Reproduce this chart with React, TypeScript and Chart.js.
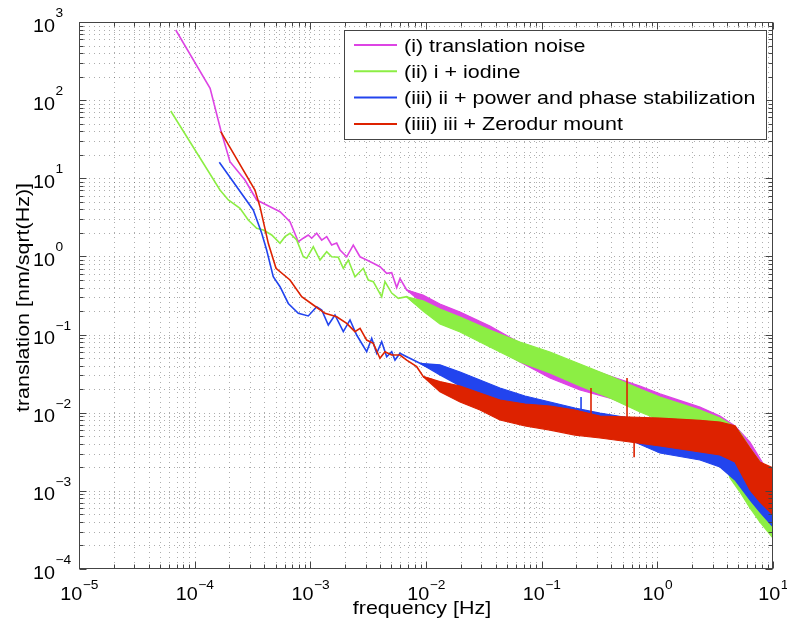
import React, { useEffect, useRef } from 'react';
import { Chart, registerables } from 'chart.js';

Chart.register(...registerables);

// ---------- axis ranges ----------
const X_MIN = 1e-5;
const X_MAX = 10;
const Y_MIN = 1e-4;
const Y_MAX = 1e3;

// ---------- labels ----------
const seriesLabels = [
  '(i) translation noise',
  '(ii) i + iodine',
  '(iii) ii + power and phase stabilization',
  '(iiii) iii + Zerodur mount',
];
const seriesColors = ['#dd44e4', '#8cee44', '#2244ee', '#dd2200'];
const xTitle = 'frequency [Hz]';
const yTitle = 'translation [nm/sqrt(Hz)]';
const xTickExponents = [-5, -4, -3, -2, -1, 0, 1];
const yTickExponents = [-4, -3, -2, -1, 0, 1, 2, 3];

// ---------- (i) translation noise ----------
const iTraceFreq = [6.86e-5, 1.36e-4, 1.68e-4, 2.02e-4, 2.72e-4, 3.44e-4, 4.19e-4, 5.47e-4, 6.67e-4, 7.87e-4, 8.69e-4, 9.6e-4, 1.027e-3, 1.135e-3, 1.254e-3, 1.385e-3, 1.529e-3, 1.69e-3, 1.805e-3, 2.063e-3, 2.351e-3, 2.687e-3, 3.071e-3, 3.502e-3, 4.0e-3, 4.573e-3, 5.05e-3, 5.58e-3, 5.96e-3, 6.81e-3, 8.3e-3, 9.42e-3];
const iTraceVal = [790, 142, 41.5, 16.3, 9.5, 5.27, 4.55, 3.73, 2.78, 1.54, 1.71, 1.88, 1.71, 1.98, 1.62, 1.79, 1.4, 1.48, 1.21, 0.99, 1.4, 0.99, 0.9, 0.816, 0.739, 0.608, 0.62, 0.4, 0.52, 0.372, 0.33, 0.28];
const iBandFreq = [6.81e-3, 9.42e-3, 1.32e-2, 1.97e-2, 3.57e-2, 6.5e-2, 0.118, 0.2145, 0.39, 0.708, 1.054, 2.337, 3.48, 4.69, 6.32, 10];
const iBandHigh = [0.372, 0.32, 0.246, 0.194, 0.129, 0.078, 0.057, 0.04, 0.0295, 0.022, 0.0174, 0.0118, 0.00907, 0.00676, 0.00422, 0.00138];
const iBandLow = [0.372, 0.25, 0.163, 0.121, 0.0757, 0.0446, 0.0278, 0.0195, 0.0154, 0.0108, 0.00855, 0.006, 0.00475, 0.00333, 0.000764, 0.000316];

// ---------- (ii) i + iodine ----------
const iiTraceFreq = [6.21e-5, 1.655e-4, 1.955e-4, 2.466e-4, 2.907e-4, 3.437e-4, 3.92e-4, 4.634e-4, 5.466e-4, 6.04e-4, 6.67e-4, 7.62e-4, 8.69e-4, 9.3e-4, 1.061e-3, 1.212e-3, 1.385e-3, 1.529e-3, 1.745e-3, 1.928e-3, 2.129e-3, 2.432e-3, 2.87e-3, 3.17e-3, 3.502e-3, 4.139e-3, 4.42e-3, 5.052e-3, 5.762e-3, 6.81e-3, 8.0e-3, 9.42e-3];
const iiTraceVal = [72.6, 7.08, 5.27, 4.13, 2.92, 2.29, 2.18, 1.88, 1.47, 1.79, 1.98, 1.62, 0.992, 0.946, 1.33, 0.9, 1.15, 0.99, 0.974, 0.705, 0.9, 0.55, 0.705, 0.499, 0.475, 0.305, 0.475, 0.34, 0.291, 0.305, 0.25, 0.24];
const iiBandFreq = [6.81e-3, 9.42e-3, 1.32e-2, 1.97e-2, 3.57e-2, 6.5e-2, 0.118, 0.2145, 0.39, 0.708, 1.054, 2.337, 3.48, 4.25, 5.18, 6.32, 7.72, 10];
const iiBandHigh = [0.305, 0.27, 0.212, 0.168, 0.114, 0.0803, 0.0598, 0.042, 0.0295, 0.0201, 0.0159, 0.0108, 0.00855, 0.00717, 0.00566, 0.00353, 0.00234, 0.00109];
const iiBandLow = [0.305, 0.2, 0.137, 0.108, 0.0693, 0.0446, 0.0322, 0.022, 0.0154, 0.0102, 0.00806, 0.00566, 0.00386, 0.00146, 0.000966, 0.000603, 0.000399, 0.000249];

// ---------- (iii) ii + power and phase stabilization ----------
const iiiTraceFreq = [1.633e-4, 3.21e-4, 3.8e-4, 4.19e-4, 4.78e-4, 5.47e-4, 6.45e-4, 7.87e-4, 9.6e-4, 1.135e-3, 1.254e-3, 1.43e-3, 1.633e-3, 1.928e-3, 2.203e-3, 2.516e-3, 3.071e-3, 3.393e-3, 3.747e-3, 4.139e-3, 4.573e-3, 5.052e-3, 5.394e-3, 5.96e-3, 6.81e-3, 8.87e-3, 1.014e-2, 1.156e-2, 1.32e-2];
const iiiTraceVal = [16.0, 3.93, 1.98, 1.21, 0.55, 0.41, 0.25, 0.187, 0.173, 0.227, 0.206, 0.1325, 0.178, 0.109, 0.154, 0.0987, 0.0603, 0.0896, 0.0576, 0.0811, 0.0521, 0.0603, 0.0472, 0.0576, 0.0521, 0.0429, 0.0388, 0.0408, 0.0352];
const iiiBandFreq = [8.87e-3, 1.32e-2, 1.97e-2, 2.93e-2, 4.36e-2, 7.18e-2, 0.118, 0.194, 0.319, 0.58, 1.054, 2.337, 3.48, 4.69, 6.32, 7.72, 10];
const iiiBandHigh = [0.0429, 0.041, 0.0332, 0.0262, 0.0207, 0.01636, 0.0137, 0.01148, 0.0099, 0.00855, 0.0076, 0.00696, 0.00637, 0.00566, 0.00333, 0.00214, 0.001025];
const iiiBandLow = [0.0429, 0.0305, 0.022, 0.01735, 0.0137, 0.01083, 0.00855, 0.00696, 0.00566, 0.00447, 0.00305, 0.00248, 0.00202, 0.00138, 0.000764, 0.000536, 0.000345];
const iiiSpikeFreq = [0.219];
const iiiSpikeBase = [0.011];
const iiiSpikeTip = [0.0159];

// ---------- (iiii) iii + Zerodur mount ----------
const iiiiTraceFreq = [1.68e-4, 3.32e-4, 3.67e-4, 4.33e-4, 5.05e-4, 6.67e-4, 8.42e-4, 1.061e-3, 1.339e-3, 1.69e-3, 2.063e-3, 2.43e-3, 2.69e-3, 3.07e-3, 3.5e-3, 4.0e-3, 4.42e-3, 5.05e-3, 5.96e-3, 6.81e-3, 8.31e-3, 9.48e-3, 1.156e-2, 1.32e-2];
const iiiiTraceVal = [39.5, 7.08, 4.33, 1.47, 0.705, 0.5, 0.305, 0.239, 0.187, 0.169, 0.139, 0.109, 0.12, 0.085, 0.0773, 0.0497, 0.0603, 0.0547, 0.0547, 0.0472, 0.0388, 0.0289, 0.0262, 0.0215];
const iiiiBandFreq = [9.48e-3, 1.32e-2, 1.97e-2, 2.93e-2, 4.36e-2, 7.18e-2, 0.118, 0.194, 0.319, 0.58, 1.054, 2.337, 3.48, 4.69, 6.32, 7.72, 10];
const iiiiBandHigh = [0.0289, 0.025, 0.022, 0.01787, 0.01454, 0.01292, 0.01218, 0.01083, 0.00907, 0.00881, 0.00855, 0.008, 0.0076, 0.0068, 0.00353, 0.00234, 0.00196];
const iiiiBandLow = [0.0289, 0.0185, 0.0137, 0.01083, 0.00806, 0.00676, 0.006, 0.00518, 0.00475, 0.00422, 0.00375, 0.00314, 0.00288, 0.00234, 0.001025, 0.00072, 0.000491];
const iiiiSpikeFreq = [0.267, 0.547, 0.63];
const iiiiSpikeBase = [0.008, 0.008, 0.0045];
const iiiiSpikeTip = [0.0207, 0.0278, 0.0027];

// ---------- styling ----------
const FONT = "'Liberation Sans', Arial, Helvetica, sans-serif";
const SX = 1.13;
const GRID_COLOR = 'rgba(60,60,60,0.42)';
const FRAME_COLOR = '#444';

const zip = (xs: number[], ys: number[]) => xs.map((x, i) => ({ x, y: ys[i] }));

type Series = {
  traceF: number[]; traceV: number[];
  bandF: number[]; bandH: number[]; bandL: number[];
  spikeF?: number[]; spikeB?: number[]; spikeT?: number[];
};

const series: Series[] = [
  { traceF: iTraceFreq, traceV: iTraceVal, bandF: iBandFreq, bandH: iBandHigh, bandL: iBandLow },
  { traceF: iiTraceFreq, traceV: iiTraceVal, bandF: iiBandFreq, bandH: iiBandHigh, bandL: iiBandLow },
  { traceF: iiiTraceFreq, traceV: iiiTraceVal, bandF: iiiBandFreq, bandH: iiiBandHigh, bandL: iiiBandLow, spikeF: iiiSpikeFreq, spikeB: iiiSpikeBase, spikeT: iiiSpikeTip },
  { traceF: iiiiTraceFreq, traceV: iiiiTraceVal, bandF: iiiiBandFreq, bandH: iiiiBandHigh, bandL: iiiiBandLow, spikeF: iiiiSpikeFreq, spikeB: iiiiSpikeBase, spikeT: iiiiSpikeTip },
];

function buildDatasets() {
  const ds: any[] = [];
  series.forEach((s, k) => {
    const color = seriesColors[k];
    const order = 10 - k; // later series drawn on top
    ds.push({
      label: seriesLabels[k], data: zip(s.traceF, s.traceV), borderColor: color,
      borderWidth: 1.6, pointRadius: 0, fill: false, order, tension: 0,
    });
    ds.push({
      label: '', data: zip(s.bandF, s.bandH), borderColor: color, backgroundColor: color,
      borderWidth: 1.2, pointRadius: 0, fill: '+1', order, tension: 0,
    });
    ds.push({
      label: '', data: zip(s.bandF, s.bandL), borderColor: color,
      borderWidth: 1.2, pointRadius: 0, fill: false, order, tension: 0,
    });
    if (s.spikeF) {
      s.spikeF.forEach((f, j) => {
        ds.push({
          label: '', data: [{ x: f, y: s.spikeB![j] }, { x: f, y: s.spikeT![j] }],
          borderColor: color, borderWidth: 1.6, pointRadius: 0, fill: false, order, tension: 0,
        });
      });
    }
  });
  return ds;
}

function logSteps(min: number, max: number) {
  const out: { v: number; major: boolean }[] = [];
  const e0 = Math.floor(Math.log10(min));
  const e1 = Math.ceil(Math.log10(max));
  for (let e = e0; e <= e1; e++) {
    for (let m = 1; m <= 9; m++) {
      const v = Number((m * Math.pow(10, e)).toPrecision(6));
      if (v >= min * 0.9999 && v <= max * 1.0001) out.push({ v, major: m === 1 });
    }
  }
  return out;
}

function drawText(ctx: CanvasRenderingContext2D, text: string, x: number, y: number, size: number,
  align: CanvasTextAlign, sx = SX, rot = 0) {
  ctx.save();
  ctx.translate(x, y);
  if (rot) ctx.rotate(rot);
  ctx.scale(sx, 1);
  ctx.font = `${size}px ${FONT}`;
  ctx.textAlign = align;
  ctx.textBaseline = 'alphabetic';
  ctx.fillStyle = '#000';
  ctx.fillText(text, 0, 0);
  ctx.restore();
}

function textWidth(ctx: CanvasRenderingContext2D, text: string, size: number, sx = SX) {
  ctx.save();
  ctx.font = `${size}px ${FONT}`;
  const w = ctx.measureText(text).width * sx;
  ctx.restore();
  return w;
}

const expText = (e: number) => (e < 0 ? '\u2212' + Math.abs(e) : String(e));

const matlabAxes = {
  id: 'matlabAxes',
  beforeDatasetsDraw(chart: any) {
    const { ctx, chartArea: a } = chart;
    const xs = chart.scales.x;
    const ys = chart.scales.y;
    ctx.save();
    ctx.beginPath();
    ctx.rect(a.left, a.top, a.right - a.left, a.bottom - a.top);
    ctx.clip();
    ctx.strokeStyle = GRID_COLOR;
    ctx.lineWidth = 1;
    ctx.setLineDash([1, 4]);
    for (const t of logSteps(X_MIN, X_MAX)) {
      if (t.v <= X_MIN * 1.001 || t.v >= X_MAX * 0.999) continue;
      const px = Math.round(xs.getPixelForValue(t.v)) + 0.5;
      ctx.beginPath();
      ctx.moveTo(px, a.top);
      ctx.lineTo(px, a.bottom);
      ctx.stroke();
    }
    for (const t of logSteps(Y_MIN, Y_MAX)) {
      if (t.v <= Y_MIN * 1.001 || t.v >= Y_MAX * 0.999) continue;
      const py = Math.round(ys.getPixelForValue(t.v)) + 0.5;
      ctx.beginPath();
      ctx.moveTo(a.left, py);
      ctx.lineTo(a.right, py);
      ctx.stroke();
    }
    ctx.restore();
  },
  afterDraw(chart: any) {
    const { ctx, chartArea: a } = chart;
    const xs = chart.scales.x;
    const ys = chart.scales.y;
    ctx.save();
    // frame
    ctx.strokeStyle = FRAME_COLOR;
    ctx.lineWidth = 1;
    const L = Math.round(a.left) + 0.5, R = Math.round(a.right) - 0.5;
    const T = Math.round(a.top) + 0.5, B = Math.round(a.bottom) - 0.5;
    ctx.strokeRect(L, T, R - L, B - T);
    // ticks
    ctx.beginPath();
    for (const t of logSteps(X_MIN, X_MAX)) {
      const px = Math.round(xs.getPixelForValue(t.v)) + 0.5;
      const len = t.major ? 7 : 4;
      ctx.moveTo(px, B); ctx.lineTo(px, B - len);
      ctx.moveTo(px, T); ctx.lineTo(px, T + len);
    }
    for (const t of logSteps(Y_MIN, Y_MAX)) {
      const py = Math.round(ys.getPixelForValue(t.v)) + 0.5;
      const len = t.major ? 7 : 4;
      ctx.moveTo(L, py); ctx.lineTo(L + len, py);
      ctx.moveTo(R, py); ctx.lineTo(R - len, py);
    }
    ctx.stroke();

    // tick labels
    const baseSize = 18, expSize = 12.5, tsx = 1.1;
    for (const e of xTickExponents) {
      const px = xs.getPixelForValue(Math.pow(10, e));
      const wb = textWidth(ctx, '10', baseSize, tsx);
      const we = textWidth(ctx, expText(e), expSize, tsx);
      const start = px - (wb + we) / 2;
      drawText(ctx, '10', start, a.bottom + 30.5, baseSize, 'left', tsx);
      drawText(ctx, expText(e), start + wb + 0.5, a.bottom + 19.5, expSize, 'left', tsx);
    }
    for (const e of yTickExponents) {
      const py = ys.getPixelForValue(Math.pow(10, e));
      const xr = a.left - 24;
      drawText(ctx, '10', xr, py + 9.5, baseSize, 'right', tsx);
      drawText(ctx, expText(e), xr + 0.5, py - 5, expSize, 'left', tsx);
    }

    // axis titles
    drawText(ctx, xTitle, (a.left + a.right) / 2 - 4, a.bottom + 45, 19, 'center');
    drawText(ctx, yTitle, a.left - 50, (a.top + a.bottom) / 2 + 2, 19, 'center', SX, -Math.PI / 2);

    // legend (inside plot, top-right)
    const bx = a.left + 265, by = a.top + 8, bw = 422, bh = 109;
    ctx.fillStyle = '#fff';
    ctx.fillRect(bx, by, bw, bh);
    ctx.strokeStyle = FRAME_COLOR;
    ctx.lineWidth = 1;
    ctx.strokeRect(Math.round(bx) + 0.5, Math.round(by) + 0.5, bw, bh);
    const entries = chart.data.datasets.filter((d: any) => d.label);
    entries.forEach((d: any, i: number) => {
      const ly = by + 15 + i * 26.3;
      ctx.strokeStyle = d.borderColor;
      ctx.lineWidth = 2;
      ctx.beginPath();
      ctx.moveTo(bx + 10, ly);
      ctx.lineTo(bx + 53, ly);
      ctx.stroke();
      drawText(ctx, d.label, bx + 60, ly + 6.5, 19, 'left');
    });
    ctx.restore();
  },
};

export default function App() {
  const ref = useRef<HTMLCanvasElement | null>(null);
  useEffect(() => {
    if (!ref.current) return;
    const chart = new Chart(ref.current, {
      type: 'line',
      data: { datasets: buildDatasets() },
      options: {
        animation: false,
        responsive: false,
        devicePixelRatio: 1,
        layout: { padding: { left: 79, top: 22, right: 14, bottom: 55 } },
        scales: {
          x: { type: 'logarithmic', min: X_MIN, max: X_MAX, display: false },
          y: { type: 'logarithmic', min: Y_MIN, max: Y_MAX, display: false },
        },
        plugins: { legend: { display: false }, tooltip: { enabled: false } },
        elements: { point: { radius: 0 }, line: { tension: 0 } },
      } as any,
      plugins: [matlabAxes],
    });
    return () => chart.destroy();
  }, []);
  return (
    <div style={{ position: 'fixed', left: 0, top: 0, width: 787, height: 624, background: '#fff' }}>
      <canvas ref={ref} width={787} height={624} style={{ display: 'block', width: 787, height: 624 }} />
    </div>
  );
}
